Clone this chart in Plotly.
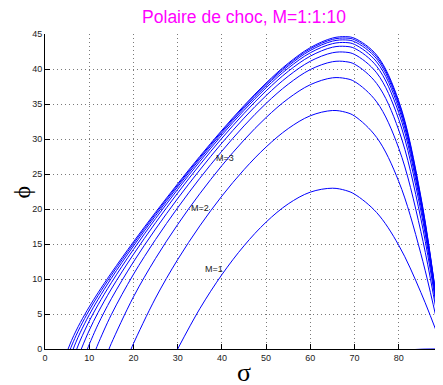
import plotly.graph_objects as go

# Shock polar curves (wave angle sigma in degrees, deflection phi in degrees)
sigma_m1 = [70, 75, 80, 85, 90]
phi_m1 = [-1.85, -0.81, -0.25, -0.03, 0]

sigma_m2 = [30, 35, 40, 45, 50, 55, 60, 65, 68, 70, 75, 80, 85, 90]
phi_m2 = [0, 5.75, 10.62, 14.74, 18.13, 20.73, 22.41, 22.97, 22.65, 22.12, 19.49, 14.81, 8.08, 0]

sigma_m3 = [19.47, 20, 25, 30, 35, 40, 45, 50, 55, 60, 65, 68, 70, 75, 80, 85, 90]
phi_m3 = [0, 0.77, 7.28, 12.77, 17.58, 21.85, 25.62, 28.86, 31.49, 33.32, 34.07, 33.82, 33.28, 30.22, 23.93, 13.60, 0]

sigma_m4 = [14.48, 15, 20, 25, 30, 35, 40, 45, 50, 55, 60, 65, 68, 70, 75, 80, 85, 90]
phi_m4 = [0, 0.80, 7.44, 12.94, 17.78, 22.18, 26.20, 29.85, 33.07, 35.77, 37.76, 38.74, 38.64, 38.21, 35.30, 28.67, 16.76, 0]

sigma_m5 = [11.54, 12, 15, 20, 25, 30, 35, 40, 45, 50, 55, 60, 65, 68, 70, 75, 80, 85, 90]
phi_m5 = [0, 0.73, 4.91, 10.66, 15.64, 20.17, 24.38, 28.27, 31.87, 35.09, 37.83, 39.92, 41.04, 41.05, 40.69, 37.93, 31.26, 18.60, 0]

sigma_m6 = [9.59, 10, 12, 15, 20, 25, 30, 35, 40, 45, 50, 55, 60, 65, 68, 70, 75, 80, 85, 90]
phi_m6 = [0, 0.64, 3.51, 7.18, 12.44, 17.13, 21.49, 25.57, 29.42, 32.98, 36.20, 38.97, 41.11, 42.32, 42.40, 42.08, 39.45, 32.79, 19.73, 0]

sigma_m7 = [8.21, 10, 12, 15, 20, 25, 30, 35, 40, 45, 50, 55, 60, 65, 68, 70, 75, 80, 85, 90]
phi_m7 = [0, 2.66, 5.21, 8.57, 13.52, 18.04, 22.28, 26.31, 30.11, 33.65, 36.88, 39.67, 41.84, 43.11, 43.23, 42.95, 40.39, 33.75, 20.45, 0]

sigma_m8 = [7.18, 8, 10, 12, 15, 20, 25, 30, 35, 40, 45, 50, 55, 60, 65, 68, 70, 75, 80, 85, 90]
phi_m8 = [0, 1.28, 3.98, 6.32, 9.47, 14.22, 18.63, 22.80, 26.78, 30.56, 34.09, 37.32, 40.12, 42.32, 43.62, 43.78, 43.51, 41.01, 34.40, 20.95, 0]

sigma_m9 = [6.38, 7, 8, 10, 12, 15, 20, 25, 30, 35, 40, 45, 50, 55, 60, 65, 68, 70, 75, 80, 85, 90]
phi_m9 = [0, 0.98, 2.40, 4.88, 7.08, 10.10, 14.71, 19.03, 23.16, 27.11, 30.87, 34.39, 37.62, 40.43, 42.65, 43.98, 44.15, 43.90, 41.45, 34.85, 21.30, 0]

sigma_m10 = [5.74, 6, 7, 8, 10, 12, 15, 20, 25, 30, 35, 40, 45, 50, 55, 60, 65, 68, 70, 75, 80, 85, 90]
phi_m10 = [0, 0.42, 1.89, 3.20, 5.54, 7.63, 10.54, 15.05, 19.32, 23.41, 27.34, 31.09, 34.61, 37.83, 40.65, 42.88, 44.23, 44.42, 44.18, 41.76, 35.18, 21.55, 0]

sigma_m11 = [5.22, 6, 7, 8, 10, 12, 15, 20, 25, 30, 35, 40, 45, 50, 55, 60, 65, 68, 70, 75, 80, 85, 90]
phi_m11 = [0, 1.21, 2.57, 3.80, 6.02, 8.04, 10.87, 15.31, 19.53, 23.60, 27.51, 31.25, 34.77, 38.00, 40.82, 43.06, 44.42, 44.62, 44.39, 41.99, 35.42, 21.75, 0]

curve_labels = ["M=1", "M=2", "M=3"]
label_sigma = [38.3, 35.1, 40.7]
label_phi = [11.5, 20.1, 27.3]

x_ticks = [0, 10, 20, 30, 40, 50, 60, 70, 80, 90]
y_ticks = [0, 5, 10, 15, 20, 25, 30, 35, 40, 45]

curves = [
    (sigma_m1, phi_m1), (sigma_m2, phi_m2), (sigma_m3, phi_m3), (sigma_m4, phi_m4),
    (sigma_m5, phi_m5), (sigma_m6, phi_m6), (sigma_m7, phi_m7), (sigma_m8, phi_m8),
    (sigma_m9, phi_m9), (sigma_m10, phi_m10), (sigma_m11, phi_m11),
]

fig = go.Figure()
for sx, py in curves:
    fig.add_trace(go.Scatter(
        x=sx, y=py, mode="lines",
        line=dict(color="#0000ff", width=1, shape="spline", smoothing=1.0),
        hoverinfo="skip", showlegend=False,
    ))

tick_font = dict(family="Liberation Sans, Arial, sans-serif", size=9, color="#222222")
axis_common = dict(
    showline=True, linecolor="black", linewidth=1, mirror=False,
    ticks="inside", ticklen=5, tickcolor="black", tickwidth=1,
    showgrid=True, gridcolor="#7a7a7a", griddash="1px,3px", gridwidth=1,
    zeroline=False, tickfont=tick_font, layer="below traces",
)

fig.update_xaxes(range=[0, 90], tickvals=x_ticks, ticklabeloverflow="allow",
                 automargin=False, **axis_common)
fig.update_yaxes(range=[0, 45], tickvals=y_ticks, automargin=False, **axis_common)

annotations = []
for t, sx, py in zip(curve_labels, label_sigma, label_phi):
    annotations.append(dict(
        x=sx, y=py, xref="x", yref="y", text=t, showarrow=False,
        font=dict(family="Liberation Sans, Arial, sans-serif", size=9, color="#222222"),
        xanchor="center", yanchor="middle",
    ))
annotations.append(dict(
    x=0.5, y=-0.076, xref="paper", yref="paper", text="σ", showarrow=False,
    font=dict(family="Liberation Serif, DejaVu Serif, serif", size=26, color="black"),
    xanchor="center", yanchor="middle",
))
annotations.append(dict(
    x=-0.058, y=0.5, xref="paper", yref="paper", text="ϕ", showarrow=False,
    textangle=-90,
    font=dict(family="Liberation Serif, DejaVu Serif, serif", size=24, color="black"),
    xanchor="center", yanchor="middle",
))

# page body has an 8px margin: figure is sized/offset so the plot area lands
# at the same place as in the reference (x: 45..443, y: 34..349)
fig.update_layout(
    width=435, height=377,
    margin=dict(l=37, r=0, t=26, b=36, pad=0),
    paper_bgcolor="white", plot_bgcolor="white",
    showlegend=False,
    title=dict(
        text="Polaire de choc, M=1:1:10",
        font=dict(family="Liberation Sans, Arial, sans-serif", size=17.5, color="#ff00ff"),
        x=0.5, xref="paper", xanchor="center",
        y=1 - 9 / 377, yref="container", yanchor="middle",
    ),
    annotations=annotations,
)

fig.write_html("out.html")
